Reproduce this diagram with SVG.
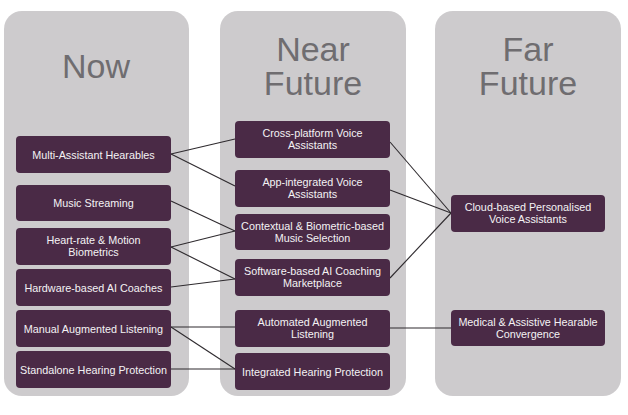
<svg xmlns="http://www.w3.org/2000/svg" width="628" height="415" viewBox="0 0 628 415">
<style>
.panel{fill:#cdcbcd}
.title{font-family:"Liberation Sans",Arial,sans-serif;font-size:34px;fill:#6f6d70;text-anchor:middle}
.box{fill:#4a2a46}
.lbl{font-family:"Liberation Sans",Arial,sans-serif;font-size:10.8px;fill:#f4f2f4;text-anchor:middle}
.conn line{stroke:#2e2a2e;stroke-width:1.1}
</style>
<rect width="628" height="415" fill="#ffffff"/>
<g id="col-now"><rect class="panel" x="4" y="11" width="185" height="385" rx="18"/><text class="title" x="96" y="78">Now</text></g>
<g id="col-near"><rect class="panel" x="220" y="11" width="186" height="385" rx="18"/><text class="title" x="313" y="61">Near</text><text class="title" x="313" y="95">Future</text></g>
<g id="col-far"><rect class="panel" x="435" y="11" width="186" height="385" rx="18"/><text class="title" x="528" y="61">Far</text><text class="title" x="528" y="95">Future</text></g>
<g class="conn" id="connectors">
<line x1="171" y1="154" x2="235" y2="139"/>
<line x1="171" y1="154" x2="235" y2="186"/>
<line x1="171" y1="201" x2="235" y2="231"/>
<line x1="171" y1="247" x2="235" y2="231"/>
<line x1="171" y1="247" x2="235" y2="279"/>
<line x1="171" y1="287" x2="235" y2="279"/>
<line x1="171" y1="327" x2="235" y2="327"/>
<line x1="171" y1="327" x2="235" y2="369"/>
<line x1="171" y1="369" x2="235" y2="369"/>
<line x1="390" y1="142" x2="451" y2="213"/>
<line x1="390" y1="190" x2="451" y2="213"/>
<line x1="390" y1="278" x2="451" y2="213"/>
<line x1="390" y1="328" x2="451" y2="328"/>
</g>
<g id="multi-assistant"><rect class="box" x="16" y="136" width="155" height="37" rx="4"/><text class="lbl" x="93.5" y="158.5">Multi-Assistant Hearables</text></g>
<g id="music-streaming"><rect class="box" x="16" y="185" width="155" height="36" rx="4"/><text class="lbl" x="93.5" y="207">Music Streaming</text></g>
<g id="heart-rate"><rect class="box" x="16" y="228" width="155" height="37" rx="4"/><text class="lbl" x="93.5" y="244">Heart-rate &amp; Motion</text><text class="lbl" x="93.5" y="256">Biometrics</text></g>
<g id="hardware-coaches"><rect class="box" x="16" y="269" width="155" height="37" rx="4"/><text class="lbl" x="93.5" y="291.5">Hardware-based AI Coaches</text></g>
<g id="manual-listening"><rect class="box" x="16" y="310" width="155" height="37" rx="4"/><text class="lbl" x="93.5" y="332.5">Manual Augmented Listening</text></g>
<g id="standalone-protection"><rect class="box" x="16" y="351" width="155" height="37" rx="4"/><text class="lbl" x="93.5" y="373.5">Standalone Hearing Protection</text></g>
<g id="cross-platform"><rect class="box" x="235" y="121" width="155" height="37" rx="4"/><text class="lbl" x="312.5" y="137">Cross-platform Voice</text><text class="lbl" x="312.5" y="149">Assistants</text></g>
<g id="app-integrated"><rect class="box" x="235" y="170" width="155" height="37" rx="4"/><text class="lbl" x="312.5" y="186">App-integrated Voice</text><text class="lbl" x="312.5" y="198">Assistants</text></g>
<g id="contextual-music"><rect class="box" x="235" y="214" width="155" height="36" rx="4"/><text class="lbl" x="312.5" y="229.5">Contextual &amp; Biometric-based</text><text class="lbl" x="312.5" y="241.5">Music Selection</text></g>
<g id="software-coaching"><rect class="box" x="235" y="259" width="155" height="37" rx="4"/><text class="lbl" x="312.5" y="275">Software-based AI Coaching</text><text class="lbl" x="312.5" y="287">Marketplace</text></g>
<g id="automated-listening"><rect class="box" x="235" y="310" width="155" height="37" rx="4"/><text class="lbl" x="312.5" y="326">Automated Augmented</text><text class="lbl" x="312.5" y="338">Listening</text></g>
<g id="integrated-protection"><rect class="box" x="235" y="353" width="155" height="37" rx="4"/><text class="lbl" x="312.5" y="375.5">Integrated Hearing Protection</text></g>
<g id="cloud-voice"><rect class="box" x="451" y="195" width="154" height="37" rx="4"/><text class="lbl" x="528" y="211">Cloud-based Personalised</text><text class="lbl" x="528" y="223">Voice Assistants</text></g>
<g id="medical-convergence"><rect class="box" x="451" y="310" width="154" height="36" rx="4"/><text class="lbl" x="528" y="325.5">Medical &amp; Assistive Hearable</text><text class="lbl" x="528" y="337.5">Convergence</text></g>
</svg>
